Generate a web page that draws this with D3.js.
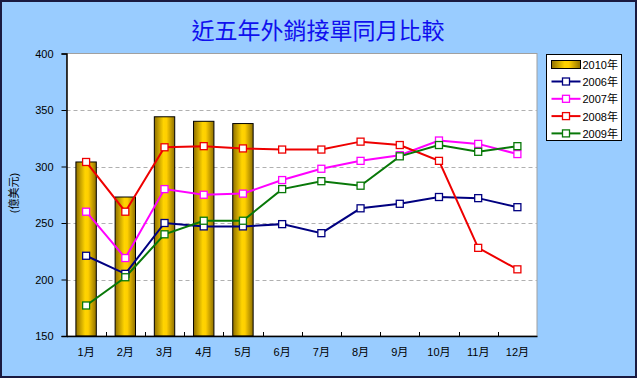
<!DOCTYPE html>
<html>
<head>
<meta charset="utf-8">
<script src="https://cdn.jsdelivr.net/npm/d3@7"></script>
<style>
  html, body { margin: 0; padding: 0; background: #fff; }
  svg text { font-family: "Liberation Sans", Arial, "Noto Sans CJK TC", sans-serif; }
</style>
</head>
<body>
<div id="chart"></div>
<script>
// Dades
const months = ["1月", "2月", "3月", "4月", "5月", "6月", "7月", "8月", "9月", "10月", "11月", "12月"];
const bars2010 = [304, 273, 344, 340, 338];
const s2006 = [221, 205, 250, 247, 247, 249, 241, 263, 267, 273, 272, 264];
const s2007 = [260, 219, 280, 275, 276, 288, 298, 305, 310, 323, 320, 311];
const s2008 = [304, 260, 317, 318, 316, 315, 315, 322, 319, 305, 228, 209];
const s2009 = [177, 202, 240, 252, 252, 280, 287, 283, 309, 319, 313, 318];
const yTicks = [150, 200, 250, 300, 350, 400];
const seriesNames = ["2006年", "2007年", "2008年", "2009年"];
const barName = "2010年";
const title = "近五年外銷接單同月比較";
const yTitle = "(億美元)";

const width = 637, height = 378;
const margin = { top: 53.5, right: 100, bottom: 42, left: 66.5 };

const svg = d3.select("#chart").append("svg")
  .attr("width", width)
  .attr("height", height);

// Fons i vora
svg.append("rect")
  .attr("x", 1).attr("y", 1)
  .attr("width", width - 2).attr("height", height - 2)
  .attr("fill", "#99ccff")
  .attr("stroke", "#1a1a40")
  .attr("stroke-width", 2);

const x = d3.scaleBand()
  .domain(months)
  .range([margin.left, width - margin.right]);

const y = d3.scaleLinear()
  .domain([150, 400])
  .range([height - margin.bottom, margin.top]);

// Gradient de les barres
const grad = svg.append("defs").append("linearGradient")
  .attr("id", "barGrad")
  .attr("x1", "0%").attr("x2", "100%").attr("y1", "0%").attr("y2", "0%");
grad.append("stop").attr("offset", "0%").attr("stop-color", "#8f7000");
grad.append("stop").attr("offset", "45%").attr("stop-color", "#ffd400");
grad.append("stop").attr("offset", "60%").attr("stop-color", "#ffcf00");
grad.append("stop").attr("offset", "100%").attr("stop-color", "#8f7000");

// Àrea del gràfic
svg.append("rect")
  .attr("x", margin.left).attr("y", margin.top)
  .attr("width", width - margin.right - margin.left)
  .attr("height", height - margin.bottom - margin.top)
  .attr("fill", "#fff")
  .attr("stroke", "#a0a0a0")
  .attr("stroke-width", 1);

// Graella
svg.append("g")
  .selectAll("line")
  .data(yTicks.filter(d => d > 150 && d < 400))
  .join("line")
  .attr("x1", margin.left).attr("x2", width - margin.right)
  .attr("y1", d => Math.round(y(d)) + 0.5).attr("y2", d => Math.round(y(d)) + 0.5)
  .attr("stroke", "#b0b0b0")
  .attr("stroke-dasharray", "4,3");

// Barres 2010
const barW = x.bandwidth() * 0.52;
svg.append("g")
  .selectAll("rect")
  .data(bars2010)
  .join("rect")
  .attr("x", (d, i) => x(months[i]) + (x.bandwidth() - barW) / 2)
  .attr("y", d => y(d))
  .attr("width", barW)
  .attr("height", d => y(150) - y(d))
  .attr("fill", "url(#barGrad)")
  .attr("stroke", "#000")
  .attr("stroke-width", 1);

// Eix Y
const yAxis = svg.append("g")
  .attr("transform", `translate(${margin.left},0)`)
  .call(d3.axisLeft(y).tickValues(yTicks).tickSize(5).tickPadding(8));
yAxis.select(".domain").attr("stroke", "#000").attr("stroke-width", 1.5);
yAxis.selectAll(".tick line").attr("stroke", "#000");
yAxis.selectAll("text").attr("font-size", 11).attr("fill", "#000");

// Eix X
const xAxis = svg.append("g")
  .attr("transform", `translate(0,${height - margin.bottom})`)
  .call(d3.axisBottom(x).tickSize(0).tickPadding(12));
xAxis.select(".domain").attr("stroke", "#000").attr("stroke-width", 1.5);
xAxis.selectAll("text").attr("font-size", 11).attr("fill", "#000");
svg.append("g")
  .selectAll("line")
  .data(months.slice(1))
  .join("line")
  .attr("x1", d => Math.round(x(d)) + 0.5).attr("x2", d => Math.round(x(d)) + 0.5)
  .attr("y1", y(150)).attr("y2", y(150) - 4)
  .attr("stroke", "#000");

// Línies
const series = [
  { name: seriesNames[0], values: s2006, color: "#000080" },
  { name: seriesNames[1], values: s2007, color: "#ff00ff" },
  { name: seriesNames[2], values: s2008, color: "#ee0000" },
  { name: seriesNames[3], values: s2009, color: "#087808" }
];

const line = d3.line()
  .x((d, i) => x(months[i]) + x.bandwidth() / 2)
  .y(d => y(d));

series.forEach(s => {
  svg.append("path")
    .datum(s.values)
    .attr("fill", "none")
    .attr("stroke", s.color)
    .attr("stroke-width", 2)
    .attr("d", line);
});
series.forEach(s => {
  svg.append("g")
    .selectAll("rect")
    .data(s.values)
    .join("rect")
    .attr("x", (d, i) => x(months[i]) + x.bandwidth() / 2 - 3.5)
    .attr("y", d => y(d) - 3.5)
    .attr("width", 7).attr("height", 7)
    .attr("fill", "#fff")
    .attr("stroke", s.color)
    .attr("stroke-width", 1.3);
});

// Títol
svg.append("text")
  .attr("x", 318).attr("y", 39)
  .attr("text-anchor", "middle")
  .attr("font-size", 23)
  .attr("fill", "#1010ee")
  .text(title);

// Títol eix Y
svg.append("text")
  .attr("transform", "translate(18,193) rotate(-90)")
  .attr("text-anchor", "middle")
  .attr("font-size", 11)
  .attr("fill", "#000")
  .text(yTitle);

// Llegenda
const lg = svg.append("g").attr("transform", "translate(546.5,54.5)");
lg.append("rect")
  .attr("width", 75).attr("height", 86)
  .attr("fill", "#fff").attr("stroke", "#000");
lg.append("rect")
  .attr("x", 5).attr("y", 6).attr("width", 29).attr("height", 8)
  .attr("fill", "url(#barGrad)").attr("stroke", "#000");
lg.append("text")
  .attr("x", 36).attr("y", 14.5)
  .attr("font-size", 11).text(barName);
series.forEach((s, i) => {
  const yy = 27 + i * 17.3;
  lg.append("line")
    .attr("x1", 5).attr("x2", 34).attr("y1", yy).attr("y2", yy)
    .attr("stroke", s.color).attr("stroke-width", 2);
  lg.append("rect")
    .attr("x", 16).attr("y", yy - 3.5).attr("width", 7).attr("height", 7)
    .attr("fill", "#fff").attr("stroke", s.color).attr("stroke-width", 1.3);
  lg.append("text")
    .attr("x", 36).attr("y", yy + 4.5)
    .attr("font-size", 11).text(s.name);
});
</script>
</body>
</html>
